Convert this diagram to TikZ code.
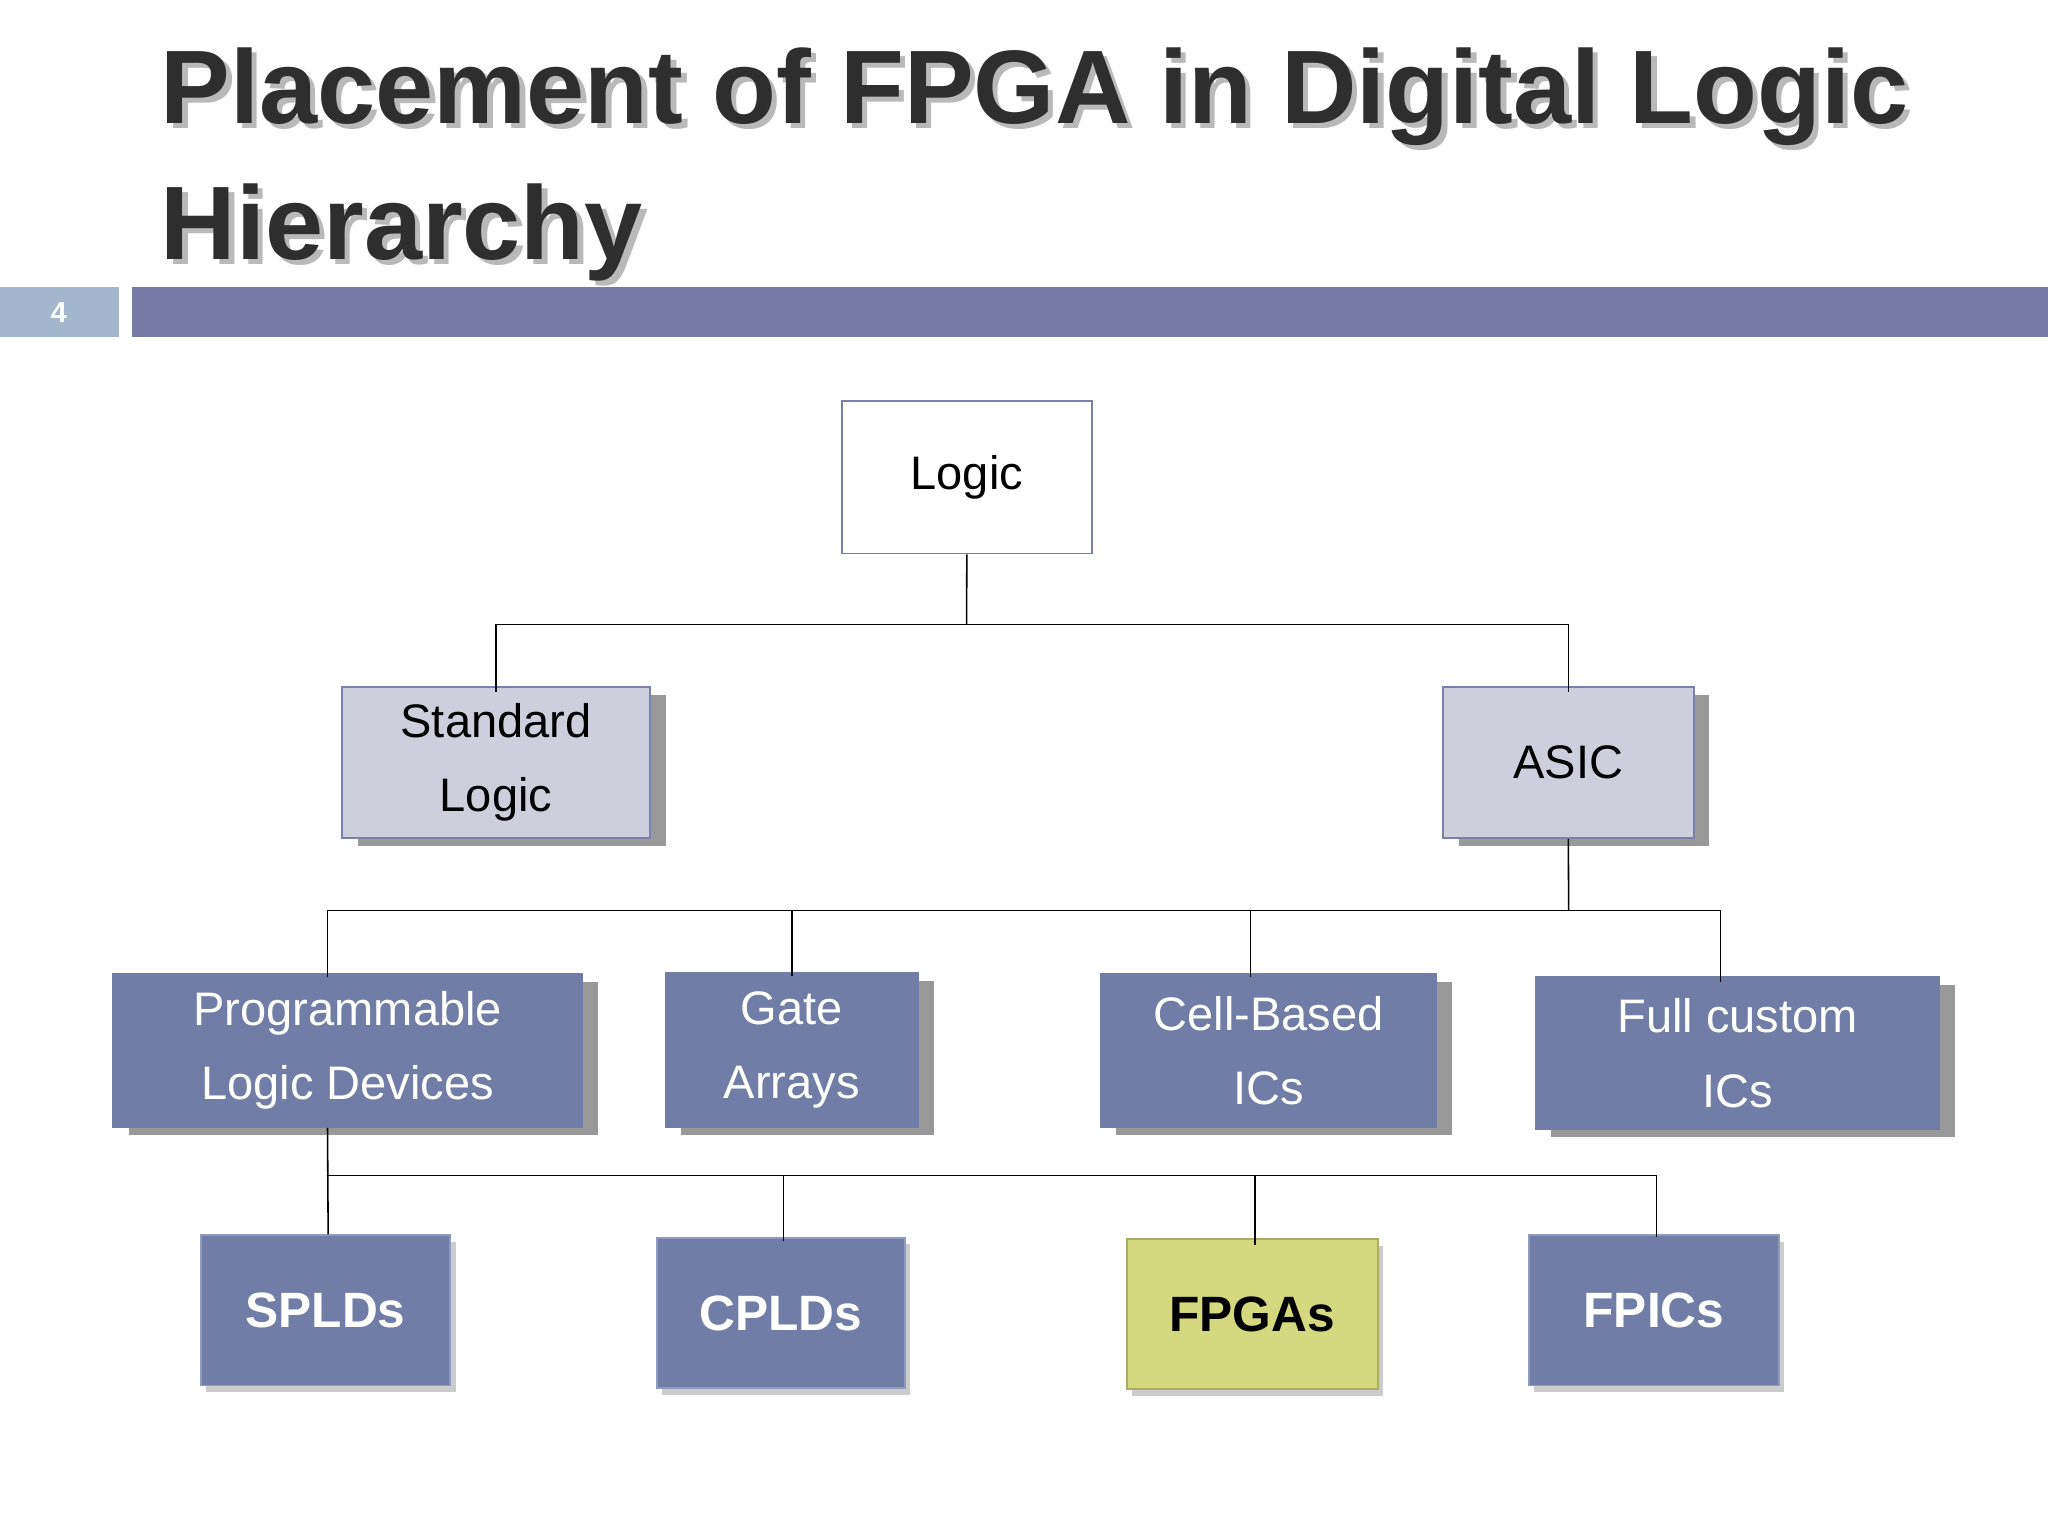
\documentclass[tikz,border=0pt]{standalone}
\usepackage{fontspec}
\setmainfont{Liberation Sans}
\usetikzlibrary{shadows}
\begin{document}
\begin{tikzpicture}[x=1pt,y=-1pt,
  box/.style={draw=#1,line width=1.5pt,minimum width=192pt,minimum height=116pt,align=center,font=\fontsize{36}{57}\selectfont,anchor=north west,inner sep=0pt},
  light/.style={box=boxline,fill=lightfill,text=black,drop shadow={shadow xshift=12pt,shadow yshift=-6pt,fill=gray!80,opacity=1}},
  dark/.style={box=darkfill,fill=darkfill,text=white,drop shadow={shadow xshift=12pt,shadow yshift=-6pt,fill=gray!80,opacity=1}},
  leaf/.style={box=leafline,fill=darkfill,text=white,font=\fontsize{38}{46}\bfseries\selectfont,drop shadow={shadow xshift=4pt,shadow yshift=-5pt,fill=gray!40,opacity=1}},
  title/.style={anchor=west,font=\fontsize{80}{90}\bfseries\selectfont,inner sep=0pt},
  line/.style={draw=black,line width=1.2pt}]
\definecolor{boxline}{HTML}{7A80AC}
\definecolor{lightfill}{HTML}{CDD0DC}
\definecolor{darkfill}{HTML}{717DA6}
\definecolor{leafline}{HTML}{8E9AC0}
\definecolor{barcol}{HTML}{737BA6}
\definecolor{numcol}{HTML}{A2B6CE}
\definecolor{fpgafill}{HTML}{D4D87E}
\useasboundingbox (0,0) rectangle (1568,1176);
\fill[white] (0,0) rectangle (1568,1176);
% title
\node[title,text=gray!55] (s1) at (127,78) {Placement of FPGA in Digital Logic};
\node[title,text=gray!55] (s2) at (127,182) {Hierarchy};
\node[title,text=black!82] (t1) at (123,74) {Placement of FPGA in Digital Logic};
\node[title,text=black!82] (t2) at (123,178) {Hierarchy};
\fill[numcol] (0,220) rectangle (91,258);
\node[text=white,font=\fontsize{22}{24}\bfseries\selectfont] (num) at (45,239) {4};
\fill[barcol] (101,220) rectangle (1568,258);
% nodes
\node[box=boxline,fill=white,minimum width=191pt,minimum height=117pt] (logic) at (644,306) {Logic};
\node[light,minimum width=236pt] (std) at (261,525) {Standard\\Logic};
\node[light] (asic) at (1104,525) {ASIC};
\node[dark,minimum width=359pt,minimum height=117pt] (pld) at (86,745) {Programmable\\Logic Devices};
\node[dark,minimum width=193pt,minimum height=118pt] (gate) at (509,744) {Gate\\Arrays};
\node[dark,minimum width=257pt,minimum height=117pt] (cell) at (842,745) {Cell-Based\\ICs};
\node[dark,minimum width=309pt,minimum height=117pt] (full) at (1175,747) {Full custom\\ICs};
\node[leaf,minimum width=191pt,minimum height=115pt] (spld) at (153,945) {SPLDs};
\node[leaf,minimum width=190pt,minimum height=115pt] (cpld) at (502,947) {CPLDs};
\node[leaf,fill=fpgafill,draw=fpgafill!80!black,text=black,minimum width=192pt,minimum height=115pt] (fpga) at (862,948) {FPGAs};
\node[leaf,minimum width=191pt,minimum height=115pt] (fpic) at (1170,945) {FPICs};
% connectors
\coordinate (j1) at (740,478);
\coordinate (j2) at (1201,697);
\coordinate (j3) at (250,900);
\draw[line] (logic.south) -- (j1);
\draw[line] (j1) -| ([yshift=-5pt]std.north);
\draw[line] (j1) -| ([yshift=-5pt]asic.north);
\draw[line] (asic.south) -- (j2);
\draw[line] (j2) -| ([xshift=-15.5pt,yshift=-3pt]pld.north);
\draw[line] (j2) -| ([yshift=-3pt]gate.north);
\draw[line] (j2) -| ([xshift=-14pt,yshift=-3pt]cell.north);
\draw[line] (j2) -| ([xshift=-13pt,yshift=-5pt]full.north);
\draw[line] ([xshift=-15.5pt]pld.south) -- ([xshift=2pt]spld.north);
\draw[line] (j3) -| ([xshift=2pt,yshift=-3pt]cpld.north);
\draw[line] (j3) -| ([xshift=2pt,yshift=-5pt]fpga.north);
\draw[line] (j3) -| ([xshift=2pt,yshift=-2pt]fpic.north);
\end{tikzpicture}
\end{document}
